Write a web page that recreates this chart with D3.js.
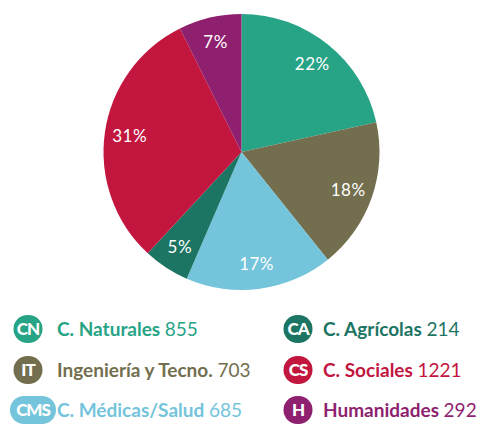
<!DOCTYPE html>
<html>
<head>
<meta charset="utf-8">
<style>
  body { margin: 0; background: #fff; }
  svg { display: block; font-family: Lato, "Open Sans", sans-serif; }
</style>
</head>
<body>
<div id="chart"></div>
<script src="https://cdnjs.cloudflare.com/ajax/libs/d3/7.8.5/d3.min.js"></script>
<script>
  // data
  const codes = ["CN", "IT", "CMS", "CA", "CS", "H"];
  const names = ["C. Naturales", "Ingeniería y Tecno.", "C. Médicas/Salud", "C. Agrícolas", "C. Sociales", "Humanidades"];
  const counts = [855, 703, 685, 214, 1221, 292];
  const percents = ["22%", "18%", "17%", "5%", "31%", "7%"];
  const colors = ["#27a386", "#736e4e", "#74c4db", "#1c7563", "#c2163f", "#8f1f6f"];

  const width = 489, height = 424;
  const cx = 241.5, cy = 152, radius = 138;

  const svg = d3.select("#chart").append("svg")
      .attr("width", width)
      .attr("height", height);

  const items = codes.map((c, i) => ({ code: c, name: names[i], value: counts[i], pct: percents[i], color: colors[i] }));

  const pie = d3.pie().value(d => d.value).sort(null);
  const arc = d3.arc().innerRadius(0).outerRadius(radius);
  const labelArc = d3.arc().innerRadius(113).outerRadius(113);

  const g = svg.append("g").attr("transform", `translate(${cx},${cy})`);
  const arcs = pie(items);

  g.selectAll("path")
    .data(arcs)
    .join("path")
      .attr("d", arc)
      .attr("fill", d => d.data.color);

  g.selectAll("text")
    .data(arcs)
    .join("text")
      .attr("transform", d => `translate(${labelArc.centroid(d)})`)
      .attr("text-anchor", "middle")
      .attr("dy", "0.36em")
      .attr("fill", "#fff")
      .attr("font-size", 17)
      .attr("letter-spacing", 0.5)
      .text(d => d.data.pct);

  // legend: two columns, three rows
  const colX = [28, 298];
  const rowY = [329, 370, 410];

  const leg = svg.selectAll("g.leg")
    .data(items)
    .join("g")
      .attr("class", "leg")
      .attr("transform", (d, i) => `translate(${colX[i < 3 ? 0 : 1]},${rowY[i % 3]})`);

  leg.append("rect")
      .attr("x", d => d.code.length > 2 ? -18 : -14.5)
      .attr("y", -14)
      .attr("width", d => d.code.length > 2 ? 46 : 29)
      .attr("height", 28)
      .attr("rx", 14)
      .attr("fill", d => d.color);

  leg.append("text")
      .attr("x", d => d.code.length > 2 ? 5 : 0)
      .attr("text-anchor", "middle")
      .attr("dy", "0.36em")
      .attr("fill", "#fff")
      .attr("font-size", 17)
      .attr("font-weight", 900)
      .attr("letter-spacing", -1)
      .text(d => d.code);

  const lt = leg.append("text")
      .attr("x", (d, i) => i < 3 ? 29 : 25)
      .attr("dy", "0.36em")
      .attr("font-size", 19)
      .attr("fill", d => d.color);
  lt.append("tspan").attr("font-weight", "bold").text(d => d.name + " ");
  lt.append("tspan").text(d => d.value);
</script>
</body>
</html>
